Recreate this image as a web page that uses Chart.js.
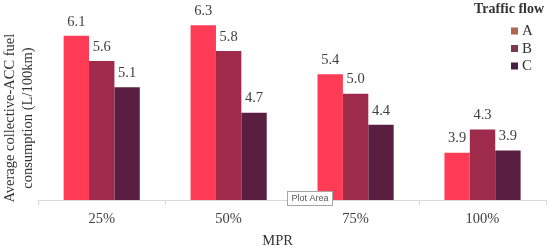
<!DOCTYPE html>
<html>
<head>
<meta charset="utf-8">
<script src="https://cdn.jsdelivr.net/npm/chart.js@4/dist/chart.umd.min.js"></script>
<style>
  html, body { margin: 0; padding: 0; background: #ffffff; }
  #wrap { width: 550px; height: 248px; position: relative; }
</style>
</head>
<body>
<div id="wrap"><canvas id="c" width="550" height="248"></canvas></div>
<script>
// ---- data ----
const categories = ['25%', '50%', '75%', '100%'];
const seriesNames = ['A', 'B', 'C'];
const seriesA = [6.12, 6.32, 5.39, 3.90];
const seriesB = [5.64, 5.83, 5.02, 4.34];
const seriesC = [5.14, 4.66, 4.43, 3.94];
const legendTitle = 'Traffic flow';
const xTitle = 'MPR';
const yTitleLines = ['Average collective-ACC fuel', 'consumption (L/100km)'];

// ---- styles ----
const barColors = ['#FF3B55', '#9E2B4B', '#5A1E40'];
const legendColors = ['#B0654F', '#7A3A4C', '#4A1E42'];
const serif = "'Liberation Serif', 'Times New Roman', serif";
const textColor = '#404040';

const valueLabels = {
  id: 'valueLabels',
  afterDatasetsDraw(chart) {
    const ctx = chart.ctx;
    ctx.save();
    ctx.font = '14.5px ' + serif;
    ctx.fillStyle = textColor;
    ctx.textAlign = 'center';
    ctx.textBaseline = 'middle';
    chart.data.datasets.forEach((ds, i) => {
      const meta = chart.getDatasetMeta(i);
      meta.data.forEach((el, j) => {
        ctx.fillText(ds.data[j].toFixed(1), el.x, el.y - 14);
      });
    });
    ctx.restore();
  }
};

const customLegend = {
  id: 'customLegend',
  afterDraw(chart) {
    const ctx = chart.ctx;
    ctx.save();
    ctx.fillStyle = '#333333';
    ctx.font = 'bold 14px ' + serif;
    ctx.textAlign = 'left';
    ctx.textBaseline = 'middle';
    ctx.fillText(legendTitle, 474, 9);
    ctx.font = '15px ' + serif;
    chart.data.datasets.forEach((ds, i) => {
      const cy = 31 + i * 17.5;
      ctx.fillStyle = legendColors[i];
      ctx.fillRect(511, cy - 3.5, 7, 7);
      ctx.fillStyle = '#333333';
      ctx.fillText(ds.label, 522, cy + 0.5);
    });
    // "Plot Area" hover tip visible in the reference screenshot
    ctx.fillStyle = '#ffffff';
    ctx.strokeStyle = '#a6a6a6';
    ctx.lineWidth = 1;
    ctx.fillRect(287.5, 191.5, 45, 14);
    ctx.strokeRect(287.5, 191.5, 45, 14);
    ctx.fillStyle = '#555555';
    ctx.font = "9px 'Liberation Sans', Arial, sans-serif";
    ctx.textAlign = 'center';
    ctx.fillText('Plot Area', 310, 199);
    ctx.restore();
  }
};

new Chart(document.getElementById('c'), {
  type: 'bar',
  data: {
    labels: categories,
    datasets: [
      { label: seriesNames[0], data: seriesA, backgroundColor: barColors[0] },
      { label: seriesNames[1], data: seriesB, backgroundColor: barColors[1] },
      { label: seriesNames[2], data: seriesC, backgroundColor: barColors[2] }
    ]
  },
  options: {
    responsive: false,
    animation: false,
    devicePixelRatio: 1,
    categoryPercentage: 0.6,
    barPercentage: 1.0,
    layout: { padding: { top: 0, right: 4, bottom: 0, left: 0 } },
    plugins: {
      legend: { display: false },
      tooltip: { enabled: false },
      title: { display: false }
    },
    scales: {
      x: {
        grid: { display: true, drawOnChartArea: false, drawTicks: true, tickLength: 5, color: '#d9d9d9', offset: true },
        border: { display: true, color: '#d9d9d9', width: 1 },
        ticks: { color: textColor, padding: 7, font: { family: serif, size: 14.5, lineHeight: 1 } },
        title: { display: true, text: xTitle + '        ', color: '#333333', padding: 0, font: { family: serif, size: 14.5, lineHeight: 1 } }
      },
      y: {
        min: 3,
        max: 6.8,
        grid: { display: false, drawTicks: false },
        border: { display: false },
        ticks: { display: false },
        title: {
          display: true,
          text: [yTitleLines[0] + '          ', yTitleLines[1] + '          '],
          color: '#333333',
          padding: { top: 1, bottom: 1 },
          font: { family: serif, size: 14.5, lineHeight: 1.25 }
        }
      }
    }
  },
  plugins: [valueLabels, customLegend]
});
</script>
</body>
</html>
